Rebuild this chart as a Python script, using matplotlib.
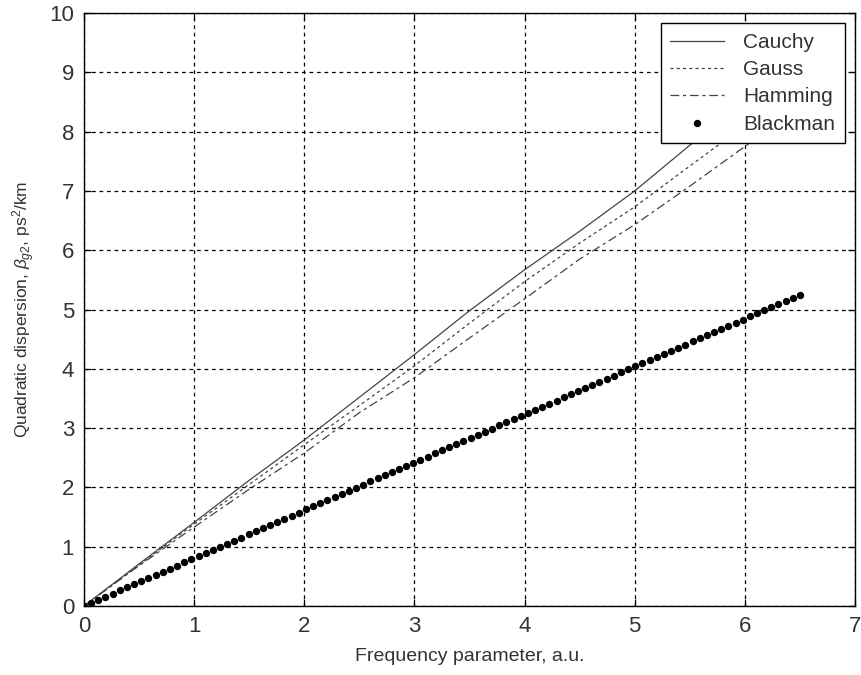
import matplotlib.pyplot as plt

plt.rcParams['font.family'] = ['Liberation Sans Narrow', 'Liberation Sans', 'DejaVu Sans']
plt.rcParams['mathtext.fontset'] = 'custom'
plt.rcParams['mathtext.rm'] = 'Liberation Sans'
plt.rcParams['mathtext.it'] = 'Liberation Sans:italic'

# Cauchy, Gauss and Hamming profiles sampled every 0.5
freq = [0.0, 0.5, 1.0, 1.5, 2.0, 2.5, 3.0, 3.5, 4.0, 4.5, 5.0, 5.5, 6.0, 6.5]
cauchy = [0.0, 0.71, 1.41, 2.12, 2.80, 3.52, 4.24, 4.98, 5.67, 6.32, 7.00, 7.77, 8.50, 9.20]
gauss = [0.0, 0.69, 1.38, 2.05, 2.72, 3.38, 4.05, 4.77, 5.47, 6.12, 6.73, 7.42, 8.10, 8.80]
hamming = [0.0, 0.68, 1.33, 1.97, 2.58, 3.26, 3.85, 4.52, 5.18, 5.85, 6.43, 7.08, 7.75, 8.40]

# Blackman profile, dense sampling
freq_b = [0.0, 0.065, 0.13, 0.195, 0.26, 0.325, 0.39, 0.455, 0.52, 0.585,
          0.65, 0.715, 0.78, 0.845, 0.91, 0.975, 1.04, 1.105, 1.17, 1.235,
          1.3, 1.365, 1.43, 1.495, 1.56, 1.625, 1.69, 1.755, 1.82, 1.885,
          1.95, 2.015, 2.08, 2.145, 2.21, 2.275, 2.34, 2.405, 2.47, 2.535,
          2.6, 2.665, 2.73, 2.795, 2.86, 2.925, 2.99, 3.055, 3.12, 3.185,
          3.25, 3.315, 3.38, 3.445, 3.51, 3.575, 3.64, 3.705, 3.77, 3.835,
          3.9, 3.965, 4.03, 4.095, 4.16, 4.225, 4.29, 4.355, 4.42, 4.485,
          4.55, 4.615, 4.68, 4.745, 4.81, 4.875, 4.94, 5.005, 5.07, 5.135,
          5.2, 5.265, 5.33, 5.395, 5.46, 5.525, 5.59, 5.655, 5.72, 5.785,
          5.85, 5.915, 5.98, 6.045, 6.11, 6.175, 6.24, 6.305, 6.37, 6.435,
          6.5]
blackman = [0.000, 0.053, 0.105, 0.158, 0.210, 0.263, 0.315, 0.368, 0.420, 0.473,
            0.525, 0.578, 0.630, 0.683, 0.735, 0.788, 0.840, 0.893, 0.945, 0.998,
            1.050, 1.103, 1.155, 1.208, 1.260, 1.313, 1.365, 1.418, 1.470, 1.523,
            1.575, 1.628, 1.680, 1.733, 1.785, 1.838, 1.890, 1.943, 1.995, 2.048,
            2.100, 2.153, 2.205, 2.258, 2.310, 2.363, 2.415, 2.468, 2.520, 2.573,
            2.625, 2.678, 2.730, 2.783, 2.835, 2.888, 2.940, 2.993, 3.045, 3.098,
            3.150, 3.203, 3.255, 3.308, 3.360, 3.413, 3.465, 3.518, 3.570, 3.623,
            3.675, 3.728, 3.780, 3.833, 3.885, 3.938, 3.990, 4.043, 4.095, 4.148,
            4.200, 4.253, 4.305, 4.358, 4.410, 4.463, 4.515, 4.568, 4.620, 4.673,
            4.725, 4.778, 4.830, 4.883, 4.935, 4.988, 5.040, 5.093, 5.145, 5.198,
            5.250]

text_c = "#333333"

fig = plt.figure(figsize=(8.62, 6.75), dpi=100)
ax = fig.add_axes([0.0974, 0.1022, 0.8945, 0.8785])

ax.plot(freq, cauchy, color="#444444", lw=0.9, label="Cauchy")
ax.plot(freq, gauss, color="#444444", lw=0.9, dashes=(2.5, 2.5), label="Gauss")
ax.plot(freq, hamming, color="#444444", lw=0.9, dashes=(7, 3, 2.5, 3), label="Hamming")
ax.plot(freq_b, blackman, "o", color="black", ms=5.3, mew=0, label="Blackman")

ax.set_xlim(0, 7)
ax.set_ylim(0, 10)
ax.set_xticks(range(0, 8))
ax.set_yticks(range(0, 11))
ax.grid(True, color="black", lw=0.9, dashes=(3, 3))
ax.tick_params(direction="in", top=True, right=True, length=5, width=0.9,
               labelsize=16, labelcolor=text_c, pad=7)
for s in ax.spines.values():
    s.set_linewidth(1.0)

ax.set_xlabel("Frequency parameter, a.u.", fontsize=14, color=text_c, labelpad=8)
ax.set_ylabel(r"Quadratic dispersion, $\beta_{g2}$, ps$^2$/km", fontsize=12.5,
              color=text_c, labelpad=9)

leg = ax.legend(loc="upper right", fontsize=15, frameon=True, fancybox=False,
                edgecolor="black", framealpha=1, handlelength=2.6,
                borderaxespad=0.5, labelspacing=0.4, handletextpad=0.9,
                borderpad=0.45)
leg.get_frame().set_linewidth(1.0)
for t in leg.get_texts():
    t.set_color(text_c)

fig.savefig("out.png", dpi=100)
